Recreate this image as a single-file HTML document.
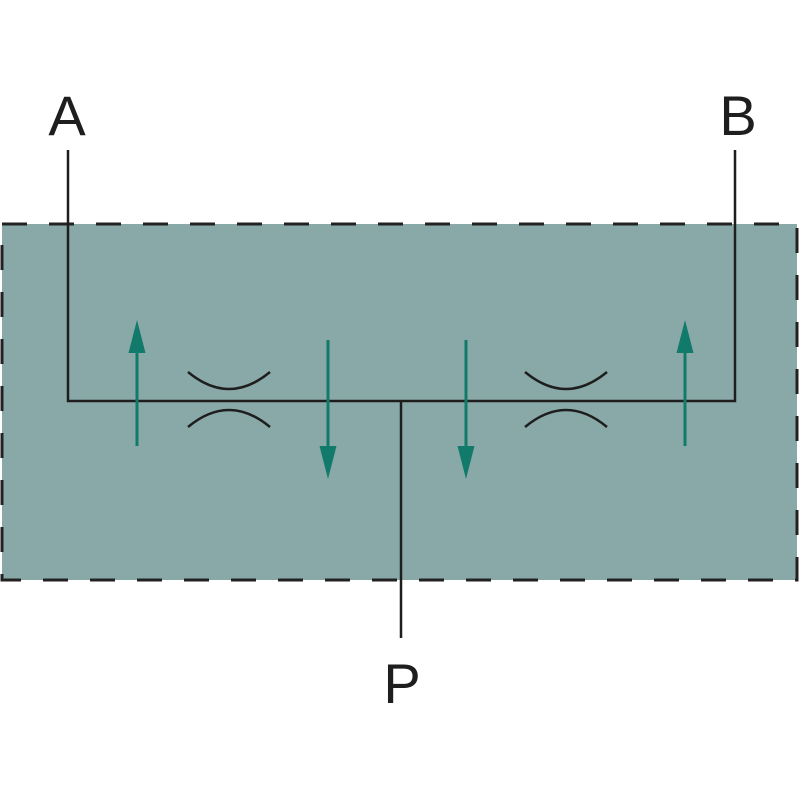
<!DOCTYPE html>
<html><head><meta charset="utf-8"><style>html,body{margin:0;padding:0;background:#fff}svg{display:block}</style></head>
<body>
<svg width="800" height="800" viewBox="0 0 800 800" xmlns="http://www.w3.org/2000/svg">
<rect x="0" y="0" width="800" height="800" fill="#fff"/>
<rect x="2" y="224" width="795" height="356" fill="#88a9a7" stroke="#222" stroke-width="3" stroke-dasharray="25 22"/>
<g stroke="#1e1e1e" stroke-width="2.5" fill="none">
<polyline points="68,150 68,401 735,401 735,150"/>
<line x1="401" y1="401" x2="401" y2="638"/>
<path d="M188,372 Q229,406 270,372"/>
<path d="M188,427 Q229,393 270,427"/>
<path d="M525,372 Q566,406 607,372"/>
<path d="M525,427 Q566,393 607,427"/>
</g>
<g stroke="#127a6a" stroke-width="3">
<line x1="137" y1="446" x2="137" y2="350"/>
<line x1="685" y1="446" x2="685" y2="350"/>
<line x1="328" y1="340" x2="328" y2="450"/>
<line x1="466" y1="340" x2="466" y2="450"/>
</g>
<g fill="#127a6a">
<polygon points="137,320 128.5,353 145.5,353"/>
<polygon points="685,320 676.5,353 693.5,353"/>
<polygon points="328,479 319.5,446 336.5,446"/>
<polygon points="466,479 457.5,446 474.5,446"/>
</g>
<g font-family="Liberation Sans, sans-serif" font-size="56" fill="#1e1e1e" text-anchor="middle">
<text x="67" y="135">A</text>
<text x="738" y="135">B</text>
<text x="402" y="703">P</text>
</g>
</svg>
</body></html>
